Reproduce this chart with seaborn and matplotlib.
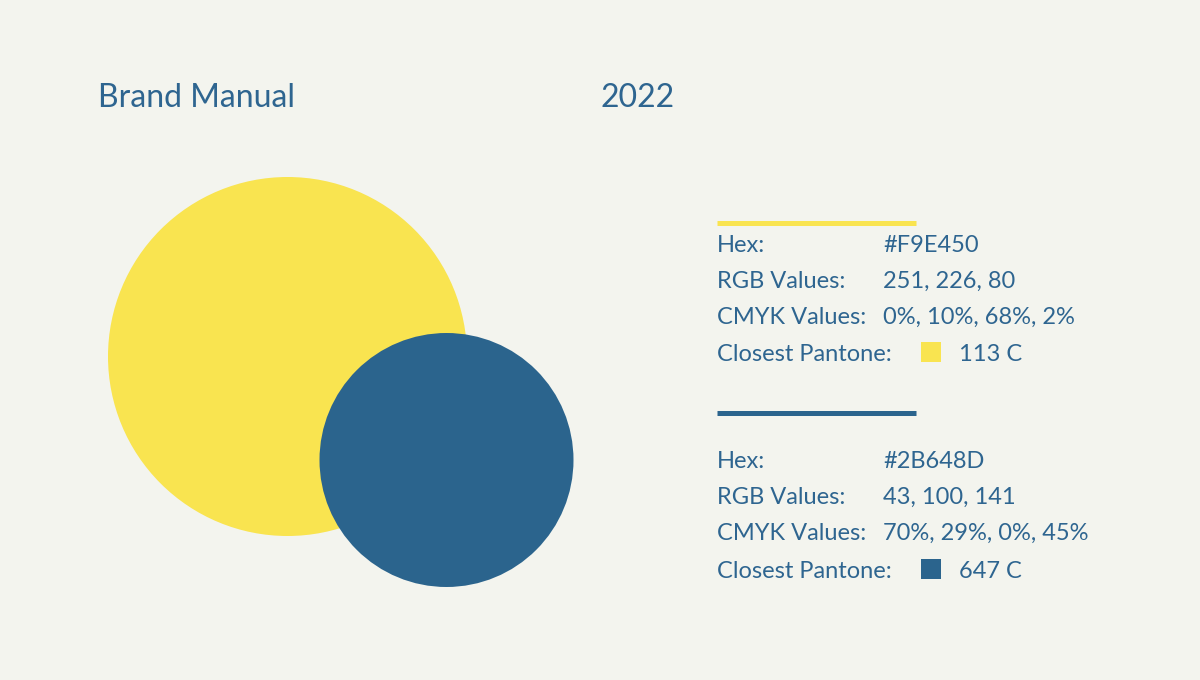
import matplotlib
matplotlib.use("Agg")
import matplotlib.pyplot as plt
import seaborn as sns
import pandas as pd

# brand colours and their specs
color_names = ["Yellow", "Blue"]
hex_values = ["#F9E450", "#2B648D"]
rgb_values = ["251, 226, 80", "43, 100, 141"]
cmyk_values = ["0%, 10%, 68%, 2%", "70%, 29%, 0%, 45%"]
pantone_values = ["113 C", "647 C"]
row_labels = ["Hex:", "RGB Values:", "CMYK Values:", "Closest Pantone:"]

title_text = "Brand Manual"
year_text = "2022"

# layout (pixels, figure is 1200x680)
BG = "#F3F4EE"
TEXT = "#2E6590"
circle_x = [287.5, 446.5]
circle_y = [356.5, 460.0]
circle_diam_px = [359, 254]
block_rule_y = [222.5, 412.5]
block_baselines = [[252, 287.5, 323.5, 361], [468, 504, 540, 578]]

sns.set_theme(style="white")
plt.rcParams["font.family"] = ["Lato", "DejaVu Sans"]

fig = plt.figure(figsize=(12, 6.8), dpi=100, facecolor=BG)
ax = fig.add_axes([0, 0, 1, 1])
ax.set_facecolor(BG)
ax.set_xlim(0, 1200)
ax.set_ylim(680, 0)
ax.axis("off")

px2pt = 72 / 100
circles = pd.DataFrame({
    "name": color_names,
    "x": circle_x,
    "y": circle_y,
    "s": [(d * px2pt) ** 2 for d in circle_diam_px],
})
sns.scatterplot(data=circles, x="x", y="y", hue="name",
                palette=dict(zip(color_names, hex_values)),
                s=circles["s"].values, linewidth=0, legend=False, ax=ax)

ax.text(98, 107, title_text, fontsize=23, color=TEXT, fontweight="normal", va="baseline")
ax.text(600, 107, year_text, fontsize=23, color=TEXT, fontweight="normal", va="baseline")

fs = 17
for i in range(len(color_names)):
    ax.plot([717, 916], [block_rule_y[i], block_rule_y[i]], color=hex_values[i],
            linewidth=5 * px2pt, solid_capstyle="butt")
    vals = [hex_values[i], rgb_values[i], cmyk_values[i]]
    base = block_baselines[i]
    for j, lab in enumerate(row_labels):
        ax.text(717, base[j], lab, fontsize=fs, color=TEXT, fontweight="normal", va="baseline")
    for j, v in enumerate(vals):
        ax.text(883, base[j], v, fontsize=fs, color=TEXT, fontweight="normal", va="baseline")
    sw = pd.DataFrame({"x": [931], "y": [base[3] - 9]})
    sns.scatterplot(data=sw, x="x", y="y", marker="s", s=(20 * px2pt) ** 2,
                    color=hex_values[i], linewidth=0, legend=False, ax=ax)
    ax.text(959, base[3], pantone_values[i], fontsize=fs, color=TEXT, fontweight="normal", va="baseline")

fig.savefig("out.png", dpi=100, facecolor=BG)
